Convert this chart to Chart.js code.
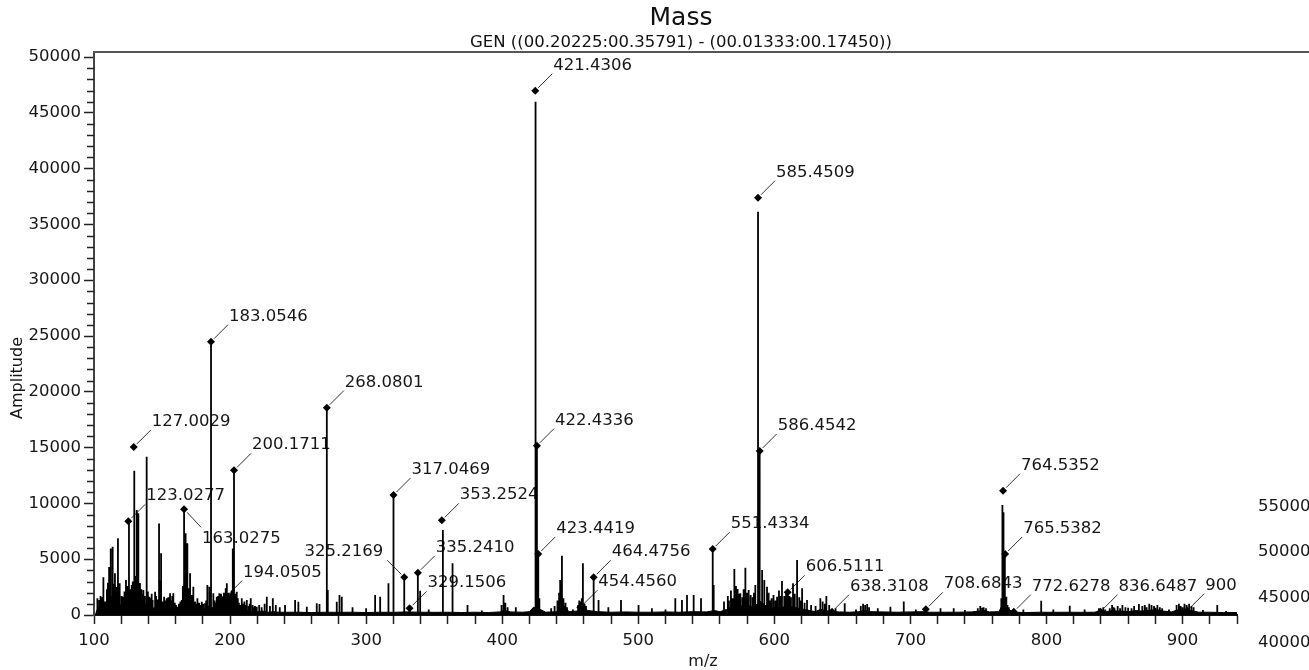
<!DOCTYPE html>
<html>
<head>
<meta charset="utf-8">
<title>Mass</title>
<script src="https://cdn.jsdelivr.net/npm/chart.js@4.4.1/dist/chart.umd.min.js"></script>
<style>
  html, body { margin: 0; padding: 0; background: #fff; }
  canvas { display: block; }
</style>
</head>
<body>
<canvas id="massChart" width="1309" height="670"></canvas>
<script>
// centroid sticks (m/z as plotted, amplitude)
const stickMz = [103.9, 106.9, 112.3, 113.7, 115.4, 117.6, 119.1, 121.6, 123.5, 125.7, 127.7, 129.6, 131.4, 132.6, 133.8, 136.3, 138.7, 140.7, 143.1, 144.9,
  147.8, 149.3, 151.5, 153.4, 155.9, 158.3, 161.3, 164.5, 166.2, 166.9, 168.6, 170.6, 173.0, 176.0, 179.2, 181.6, 183.3, 184.8, 186.0, 187.7,
  190.2, 192.1, 194.6, 197.6, 200.0, 202.0, 202.9, 204.9, 208.6, 212.3, 215.2, 219.6, 227.0, 231.4, 240.4, 247.8, 250.2, 256.4, 263.7, 265.7,
  271.1, 271.8, 278.4, 280.4, 282.1, 290.0, 300.0, 306.6, 310.3, 316.4, 320.1, 328.0, 331.9, 338.0, 339.7, 346.0, 356.4, 363.5, 374.5, 385.0,
  401.0, 410.0, 424.5, 425.5, 426.5, 427.3, 436.0, 442.6, 443.9, 452.0, 459.3, 467.2, 470.8, 478.0, 487.3, 500.2, 510.0, 520.0, 527.2, 532.1,
  535.8, 540.7, 546.1, 554.7, 555.4, 563.0, 570.6, 573.0, 575.0, 578.7, 581.1, 586.0, 588.0, 589.2, 591.0, 592.6, 594.6, 598.0, 602.0, 605.6,
  609.8, 613.7, 616.7, 620.4, 624.0, 633.8, 638.2, 645.0, 651.7, 660.0, 668.2, 676.0, 685.3, 695.1, 704.0, 722.1, 731.8, 740.0, 752.7, 767.6,
  768.4, 769.4, 770.5, 783.0, 796.1, 805.0, 817.1, 828.0, 850.0, 860.0, 867.9, 880.0, 890.0, 900.0, 915.0, 925.5, 932.0];
const stickAmp = [1340, 3380, 5970, 6120, 3730, 6870, 2840, 1640, 3140, 8400, 2690, 12930, 9410, 9110, 2870, 2240, 14190, 1640, 1340, 2090,
  8210, 5530, 1640, 1490, 1940, 1940, 750, 1340, 9470, 7320, 6420, 3730, 2540, 1490, 1190, 1050, 2690, 2540, 24490, 1940,
  1640, 1940, 1490, 2840, 1940, 5970, 12960, 2090, 1490, 1340, 1490, 750, 1640, 1490, 900, 1340, 1190, 750, 1050, 990,
  18580, 2240, 1190, 1790, 1640, 700, 600, 1790, 1640, 2840, 10750, 3380, 600, 3790, 2180, 500, 7620, 4630, 900, 400,
  1790, 700, 46000, 15170, 5470, 1500, 600, 3140, 5310, 500, 4630, 3380, 1340, 700, 1340, 900, 600, 500, 1490, 1340,
  1790, 1790, 1490, 5910, 2690, 1200, 4120, 2330, 1940, 4240, 2240, 2690, 36140, 14700, 4030, 3140, 2540, 1500, 1640, 3050,
  2030, 2840, 4930, 2390, 1340, 1490, 1700, 600, 1050, 500, 990, 600, 750, 1200, 500, 600, 600, 450, 650, 9860,
  9200, 5470, 1640, 500, 1280, 500, 830, 500, 600, 650, 990, 650, 500, 700, 450, 900, 350];

// small sticks in the crowded regions
const minorMz = [102.5, 104.8, 105.6, 108.2, 109.5, 110.2, 111.1, 114.5, 116.3, 118.5, 120.3, 122.4, 124.4, 126.5, 128.5, 130.3, 134.8, 135.5, 137.3, 139.6,
  141.8, 142.4, 145.6, 146.5, 148.6, 150.4, 152.3, 154.6, 156.8, 157.5, 159.4, 160.3, 162.4, 163.5, 165.3, 167.6, 169.4, 171.7, 172.4, 174.3,
  175.1, 177.3, 178.4, 180.2, 182.4, 185.5, 188.6, 189.4, 191.3, 193.4, 195.5, 196.8, 198.6, 199.3, 201.2, 203.7, 205.7, 206.5, 207.4, 209.5,
  210.5, 211.6, 213.7, 214.4, 216.6, 217.5, 218.3, 221.4, 223.2, 225.4, 229.3, 233.6, 236.5,
  399.5, 402.3, 404.0, 438.5, 440.6, 441.8, 445.0, 446.5, 447.6, 455.8, 456.6, 457.8, 458.5, 460.5, 461.6,
  565.8, 566.6, 568.1, 569.3, 571.8, 574.1, 576.5, 577.4, 579.8, 582.6, 584.1, 585.0, 595.8, 597.1, 599.4, 600.8, 603.4, 604.5, 607.3, 608.6,
  611.1, 612.2, 615.0, 618.3, 619.4, 622.2, 627.0, 630.3, 635.5, 637.1, 640.3, 663.5, 665.2, 666.7, 669.6, 749.5, 751.3, 753.8, 755.5,
  766.8, 771.3, 772.3, 838.5, 841.7, 843.2, 846.5, 848.2, 849.4, 852.3, 854.1, 855.8, 858.0, 862.5, 864.4, 870.4, 872.2, 873.6, 875.5,
  877.2, 879.0, 881.5, 883.3, 885.0, 895.6, 897.3, 898.6, 901.4, 903.0, 904.8, 906.5, 908.1];
const minorAmp = [1500, 1700, 1600, 1200, 2300, 2900, 4300, 2800, 2500, 2200, 1700, 2100, 2600, 2300, 3000, 3500, 2300, 1900, 1700, 2100,
  1500, 1900, 1700, 1400, 3100, 1200, 1300, 1600, 1300, 1700, 1100, 900, 1000, 1200, 2600, 5000, 2400, 1800, 1500, 1200,
  1000, 1100, 900, 1000, 1300, 2100, 1300, 1100, 1700, 1900, 2000, 2400, 2000, 1700, 2200, 1900, 1500, 1100, 900, 1000,
  1200, 900, 800, 1000, 900, 700, 800, 900, 700, 1000, 800, 900, 700,
  900, 1100, 700, 800, 1300, 2000, 1500, 1100, 700, 900, 1300, 1200, 1500, 1000, 800,
  1700, 1300, 2200, 1500, 2600, 1900, 1600, 2300, 2000, 1800, 1600, 2000, 2000, 1300, 1800, 1300, 2200, 1700, 1700, 1900,
  1700, 1600, 1900, 1600, 1300, 1100, 900, 800, 1200, 1000, 900, 800, 1000, 900, 700, 600, 800, 700, 600,
  1500, 900, 700, 600, 700, 500, 600, 900, 700, 800, 600, 900, 700, 600, 800, 800, 900, 700, 1000,
  900, 800, 900, 700, 600, 900, 1000, 800, 1000, 900, 1000, 800, 700];

// dense low-level profile under the sticks
const envMz = [101, 102, 104, 106, 108, 110, 112, 114, 116, 118, 120, 122, 124, 126, 128, 130, 132, 134, 136, 138,
  140, 142, 144, 146, 148, 150, 152, 154, 156, 158, 160, 162, 164, 166, 168, 170, 172, 174, 176, 178,
  180, 182, 184, 186, 188, 190, 192, 194, 196, 198, 200, 202, 204, 206, 208, 210, 212, 214, 216, 218,
  220, 224, 228, 232, 236, 240, 250, 260, 270, 280, 290, 300, 310, 320, 330, 340, 350, 360, 370, 380,
  390, 398, 402, 406, 415, 420, 423, 428, 432, 440, 443, 446, 449, 455, 457, 460, 463, 470, 480, 490,
  500, 510, 520, 530, 540, 550, 556, 560, 565, 568, 572, 576, 580, 584, 590, 594, 598, 602, 606, 610,
  614, 618, 622, 626, 630, 634, 638, 642, 648, 655, 662, 666, 670, 680, 690, 700, 710, 714, 725, 735,
  745, 750, 754, 758, 765, 768, 772, 776, 785, 795, 805, 815, 825, 835, 840, 844, 848, 852, 856, 860,
  866, 870, 874, 878, 882, 886, 892, 896, 900, 904, 908, 912, 920, 930, 940];
const envAmp = [0, 400, 800, 900, 600, 1000, 1500, 1800, 1300, 1100, 800, 1000, 1300, 1500, 1400, 1800, 1900, 1200, 1000, 900,
  700, 800, 600, 700, 800, 550, 650, 800, 600, 700, 450, 400, 600, 1100, 1000, 800, 600, 450, 500, 400,
  450, 600, 800, 700, 600, 500, 650, 800, 850, 950, 900, 750, 600, 450, 400, 450, 350, 400, 350, 300,
  300, 350, 250, 300, 250, 250, 250, 220, 250, 240, 250, 220, 250, 240, 280, 250, 240, 250, 220, 250,
  220, 280, 400, 280, 250, 300, 700, 500, 250, 300, 700, 800, 300, 350, 500, 600, 400, 300, 250, 280,
  250, 250, 280, 250, 300, 280, 400, 300, 500, 700, 900, 800, 900, 700, 1200, 800, 600, 700, 700, 800,
  700, 600, 500, 400, 300, 500, 400, 300, 280, 250, 300, 400, 300, 280, 250, 280, 300, 250, 250, 250,
  280, 350, 400, 280, 300, 1000, 500, 250, 220, 250, 240, 250, 240, 250, 350, 300, 400, 350, 350, 300,
  400, 350, 400, 450, 450, 350, 280, 450, 400, 450, 350, 250, 250, 220, 220];

// picked peaks: plotted position, amplitude, printed label
const annMz = [125.2, 129.2, 166.2, 186.0, 196.3, 202.9, 271.1, 320.1, 328.0, 331.9, 338.0, 355.6, 424.3, 425.5,
  426.5, 457.4, 467.2, 554.7, 588.0, 589.2, 609.8, 642.4, 711.3, 768.1, 769.6, 776.0, 839.7, 903.4];
const annAmp = [8400, 15050, 9470, 24490, 1550, 12960, 18580, 10750, 3380, 600, 3790, 8480, 46980, 15170,
  5470, 690, 3380, 5910, 37390, 14700, 2030, 300, 510, 11140, 5470, 300, 300, 390];
const annLabels = ['123.0277', '127.0029', '163.0275', '183.0546', '194.0505', '200.1711', '268.0801', '317.0469',
  '325.2169', '329.1506', '335.2410', '353.2524', '421.4306', '422.4336', '423.4419', '454.4560', '464.4756',
  '551.4334', '585.4509', '586.4542', '606.5111', '638.3108', '708.6843', '764.5352', '765.5382', '772.6278',
  '836.6487', '900'];

const xMajorTicks = [100, 200, 300, 400, 500, 600, 700, 800, 900];
const yMajorTicks = [0, 5000, 10000, 15000, 20000, 25000, 30000, 35000, 40000, 45000, 50000];
const sideLabels = ['55000', '50000', '45000', '40000'];

const FONT = 'DejaVu Sans';
const TEXT = '#161616';
Chart.defaults.font.family = FONT;

const labelsDownRight = ['163.0275'];
const labelsUpLeft = ['325.2169'];

// each stick goes up and back down to the baseline
const allSticks = stickMz.map((mz, i) => [mz, stickAmp[i]])
    .concat(minorMz.map((mz, i) => [mz, minorAmp[i]]))
    .sort((a, b) => a[0] - b[0]);
const stickPoints = [];
allSticks.forEach(([mz, amp]) => {
    stickPoints.push({ x: mz, y: 0 }, { x: mz, y: amp }, { x: mz, y: 0 });
});
const envPoints = envMz.map((mz, i) => ({ x: mz, y: envAmp[i] }));

const decorations = {
    id: 'decorations',
    beforeDatasetsDraw(chart) {
        const ctx = chart.ctx;
        const xs = chart.scales.x, ys = chart.scales.y;
        ctx.save();
        ctx.font = '16.5px ' + FONT;
        ctx.fillStyle = TEXT;
        ctx.strokeStyle = '#333';
        ctx.lineWidth = 1;
        ctx.textBaseline = 'alphabetic';
        annLabels.forEach((txt, i) => {
            const mx = xs.getPixelForValue(annMz[i]);
            const my = ys.getPixelForValue(annAmp[i]);
            ctx.beginPath();
            if (labelsDownRight.includes(txt)) {
                ctx.moveTo(mx + 3, my + 3); ctx.lineTo(mx + 17, my + 18);
                ctx.stroke();
                ctx.textAlign = 'left';
                ctx.fillText(txt, mx + 18, my + 34);
            } else if (labelsUpLeft.includes(txt)) {
                ctx.moveTo(mx - 3, my - 3); ctx.lineTo(mx - 17, my - 17);
                ctx.stroke();
                ctx.textAlign = 'right';
                ctx.fillText(txt, mx - 21, my - 21);
            } else {
                ctx.moveTo(mx + 3, my - 3); ctx.lineTo(mx + 17, my - 17);
                ctx.stroke();
                ctx.textAlign = 'left';
                ctx.fillText(txt, mx + 18, my - 21);
            }
        });
        ctx.restore();
    },
    afterDatasetsDraw(chart) {
        const ctx = chart.ctx;
        const xs = chart.scales.x, ys = chart.scales.y;
        const area = chart.chartArea;
        ctx.save();
        // diamond markers on picked peaks
        ctx.fillStyle = '#000';
        annMz.forEach((mz, i) => {
            const mx = xs.getPixelForValue(mz);
            const my = ys.getPixelForValue(annAmp[i]);
            ctx.beginPath();
            ctx.moveTo(mx, my - 4); ctx.lineTo(mx + 4, my); ctx.lineTo(mx, my + 4); ctx.lineTo(mx - 4, my);
            ctx.closePath();
            ctx.fill();
        });
        // top frame line runs to the right edge
        ctx.strokeStyle = '#555';
        ctx.lineWidth = 2;
        ctx.beginPath();
        ctx.moveTo(area.left - 1, area.top);
        ctx.lineTo(chart.width, area.top);
        ctx.stroke();
        // minor y ticks
        ctx.strokeStyle = '#222';
        ctx.lineWidth = 1.5;
        for (let v = 1000; v < ys.max; v += 1000) {
            if (v % 5000 === 0) continue;
            const y = Math.round(ys.getPixelForValue(v)) + 0.5;
            ctx.beginPath();
            ctx.moveTo(area.left - 7, y);
            ctx.lineTo(area.left, y);
            ctx.stroke();
        }
        // titles
        ctx.fillStyle = '#111';
        ctx.textAlign = 'center';
        ctx.textBaseline = 'alphabetic';
        ctx.font = '25px ' + FONT;
        ctx.fillText('Mass', 681, 25);
        ctx.font = '16.5px ' + FONT;
        ctx.fillText('GEN ((00.20225:00.35791) - (00.01333:00.17450))', 681, 47);
        // axis titles
        ctx.fillStyle = TEXT;
        ctx.font = '16px ' + FONT;
        ctx.fillText('m/z', 703, 666);
        ctx.save();
        ctx.translate(22, 378);
        ctx.rotate(-Math.PI / 2);
        ctx.fillText('Amplitude', 0, 0);
        ctx.restore();
        // stray labels at the right edge
        ctx.textAlign = 'left';
        ctx.textBaseline = 'middle';
        ctx.font = '16.5px ' + FONT;
        const sideY = [507, 552, 598, 643];
        sideLabels.forEach((t, i) => ctx.fillText(t, 1258, sideY[i]));
        ctx.restore();
    }
};

const ctx = document.getElementById('massChart').getContext('2d');
new Chart(ctx, {
    type: 'line',
    data: {
        datasets: [{
            label: 'sticks',
            data: stickPoints,
            borderColor: '#000',
            borderWidth: 1.8,
            pointRadius: 0,
            tension: 0,
            fill: false
        }, {
            label: 'profile',
            data: envPoints,
            borderColor: '#000',
            borderWidth: 1,
            backgroundColor: '#000',
            pointRadius: 0,
            tension: 0,
            fill: 'origin'
        }]
    },
    options: {
        responsive: false,
        animation: false,
        events: [],
        layout: { padding: { top: 52, right: 72, left: 0, bottom: 0 } },
        plugins: {
            legend: { display: false },
            tooltip: { enabled: false },
            title: { display: false }
        },
        scales: {
            x: {
                type: 'linear',
                min: 100,
                max: 940,
                afterFit: s => { s.height = 55; },
                afterBuildTicks: s => {
                    const t = [];
                    for (let v = 100; v <= 940; v += 20) t.push({ value: v });
                    s.ticks = t;
                },
                ticks: {
                    autoSkip: false,
                    maxRotation: 0,
                    padding: 7,
                    color: TEXT,
                    font: { size: 16.5 },
                    callback: v => xMajorTicks.includes(v) ? String(v) : ''
                },
                grid: { drawOnChartArea: false, drawTicks: true, tickLength: 9, tickColor: '#222', tickWidth: 1.5 },
                border: { color: '#111', width: 2 }
            },
            y: {
                type: 'linear',
                min: 0,
                max: 50450,
                afterFit: s => { s.width = 94; },
                afterBuildTicks: s => { s.ticks = yMajorTicks.map(v => ({ value: v })); },
                ticks: {
                    padding: 3,
                    color: TEXT,
                    font: { size: 16.5 },
                    callback: v => String(v)
                },
                grid: { drawOnChartArea: false, drawTicks: true, tickLength: 10, tickColor: '#222', tickWidth: 1.5 },
                border: { color: '#444', width: 2 }
            }
        }
    },
    plugins: [decorations]
});
</script>
</body>
</html>
